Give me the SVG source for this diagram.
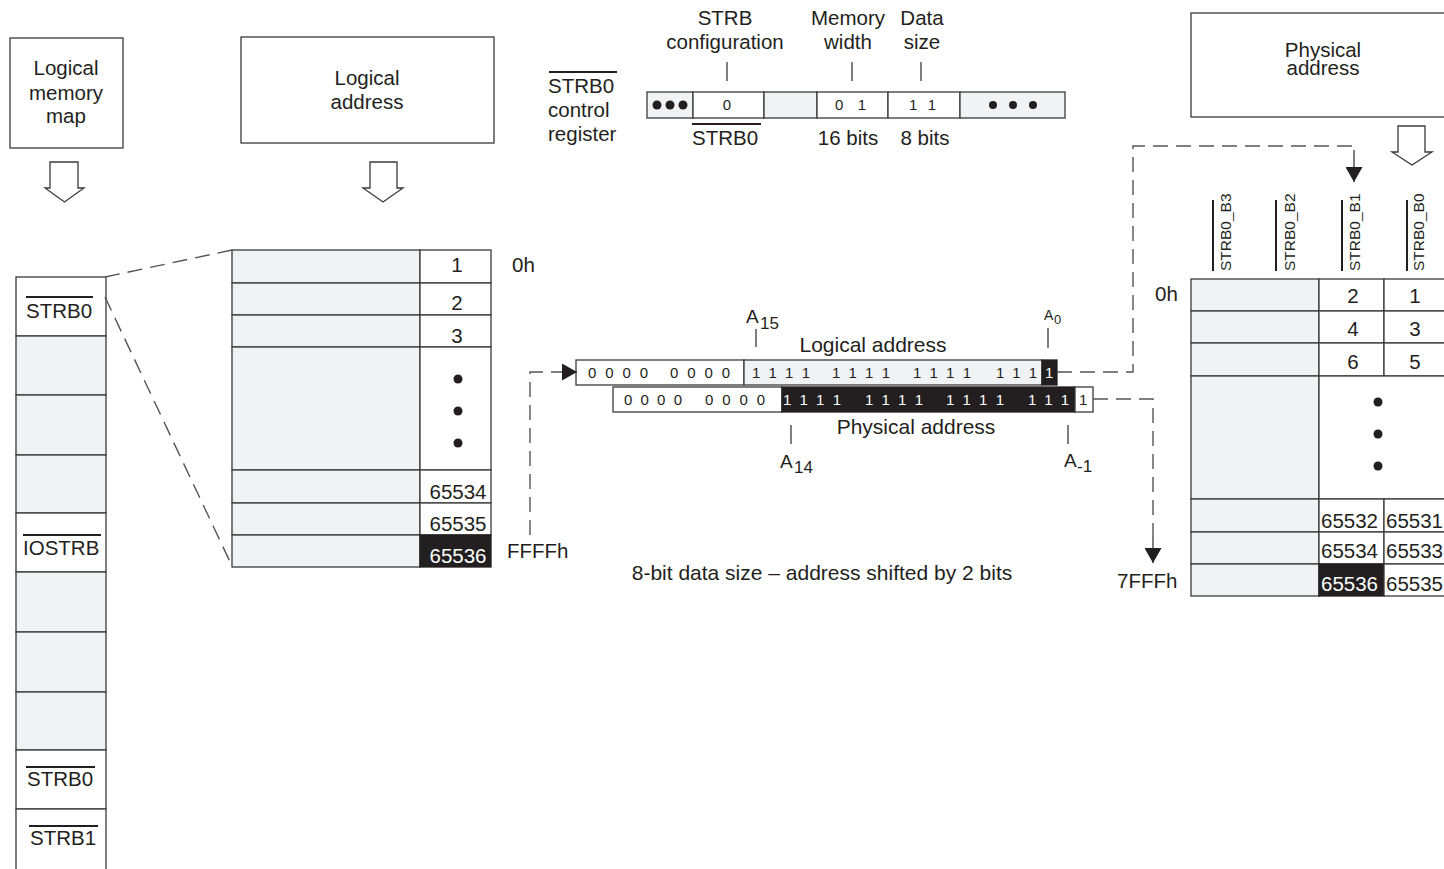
<svg xmlns="http://www.w3.org/2000/svg" width="1444" height="869" viewBox="0 0 1444 869">
<style>
.t{font-family:"Liberation Sans",Arial,Helvetica,sans-serif;font-size:20.5px;fill:#231f20}
.m{text-anchor:middle}
.s{font-size:15px}
.w{fill:#ffffff}
.box{fill:#ffffff;stroke:#3a3a3a;stroke-width:1.3}
.gray{fill:#f1f2f4;stroke:#3a3a3a;stroke-width:1.3}
.blk{fill:#231f20;stroke:#231f20;stroke-width:1.3}
.ln{stroke:#3a3a3a;stroke-width:1.3;fill:none}
.ov{stroke:#231f20;stroke-width:2;fill:none}
.dash{fill:none;stroke:#555555;stroke-width:1.4;stroke-dasharray:15 8}
.hollow{fill:#ffffff;stroke:#3a3a3a;stroke-width:1.3}
.dot{fill:#231f20}
</style>
<defs>
<marker id="ah" viewBox="0 0 15 17" refX="15" refY="8.5" markerWidth="15" markerHeight="17" markerUnits="userSpaceOnUse" orient="auto">
<path d="M0,0 L15,8.5 L0,17 z" fill="#231f20"/>
</marker>
</defs>
<rect width="1444" height="869" fill="#ffffff"/>

<g id="logical-memory-map-title">
<rect class="box" x="10" y="38" width="113" height="110"/>
<text class="t m" x="66" y="75">Logical</text>
<text class="t m" x="66" y="100">memory</text>
<text class="t m" x="66" y="123">map</text>
<polygon class="hollow" points="50,162 78,162 78,188 84,188 64.5,202 45,188 50,188"/>
</g>

<g id="logical-address-title">
<rect class="box" x="241" y="37" width="253" height="106"/>
<text class="t m" x="367" y="85">Logical</text>
<text class="t m" x="367" y="109">address</text>
<polygon class="hollow" points="370,162 397,162 397,188 403,188 383,202 363,188 370,188"/>
</g>

<g id="physical-address-title">
<rect class="box" x="1191" y="13" width="270" height="104"/>
<text class="t m" x="1323" y="57">Physical</text>
<text class="t m" x="1323" y="75">address</text>
<polygon class="hollow" points="1398,126 1425,126 1425,152 1432,152 1412,165 1392,152 1398,152"/>
</g>

<g id="control-register">
<line class="ov" x1="549" y1="72" x2="617" y2="72"/>
<text class="t" x="548" y="93">STRB0</text>
<text class="t" x="548" y="117">control</text>
<text class="t" x="548" y="141">register</text>
<text class="t m" x="725" y="25">STRB</text>
<text class="t m" x="725" y="49">configuration</text>
<text class="t m" x="848" y="25">Memory</text>
<text class="t m" x="848" y="49">width</text>
<text class="t m" x="922" y="25">Data</text>
<text class="t m" x="922" y="49">size</text>
<line class="ln" x1="727" y1="62" x2="727" y2="81"/>
<line class="ln" x1="852" y1="62" x2="852" y2="81"/>
<line class="ln" x1="921" y1="62" x2="921" y2="81"/>
<rect class="gray" x="647" y="92" width="46" height="26"/>
<rect class="box" x="693" y="92" width="71" height="26"/>
<rect class="gray" x="764" y="92" width="53" height="26"/>
<rect class="box" x="817" y="92" width="71" height="26"/>
<rect class="box" x="888" y="92" width="72" height="26"/>
<rect class="gray" x="960" y="92" width="105" height="26"/>
<circle class="dot" cx="657" cy="105" r="4.5"/>
<circle class="dot" cx="670" cy="105" r="4.5"/>
<circle class="dot" cx="683" cy="105" r="4.5"/>
<circle class="dot" cx="993" cy="105" r="4"/>
<circle class="dot" cx="1013" cy="105" r="4"/>
<circle class="dot" cx="1033" cy="105" r="4"/>
<text class="t s m" x="727" y="110">0</text>
<text class="t s" x="835" y="110" textLength="31" lengthAdjust="spacing">0 1</text>
<text class="t s" x="909" y="110" textLength="27" lengthAdjust="spacing">1 1</text>
<line class="ov" x1="692" y1="124" x2="761" y2="124"/>
<text class="t" x="692" y="145">STRB0</text>
<text class="t m" x="848" y="145">16 bits</text>
<text class="t m" x="925" y="145">8 bits</text>
</g>

<g id="logical-memory-map">
<rect class="box" x="16" y="277" width="90" height="59"/>
<rect class="gray" x="16" y="336" width="90" height="59"/>
<rect class="gray" x="16" y="395" width="90" height="60"/>
<rect class="gray" x="16" y="455" width="90" height="58"/>
<rect class="box" x="16" y="513" width="90" height="59"/>
<rect class="gray" x="16" y="572" width="90" height="60"/>
<rect class="gray" x="16" y="632" width="90" height="60"/>
<rect class="gray" x="16" y="692" width="90" height="58"/>
<rect class="box" x="16" y="750" width="90" height="59"/>
<rect class="box" x="16" y="809" width="90" height="62"/>
<line class="ov" x1="26" y1="297" x2="93" y2="297"/>
<text class="t" x="26" y="318">STRB0</text>
<line class="ov" x1="23" y1="535" x2="101" y2="535"/>
<text class="t" x="23" y="555">IOSTRB</text>
<line class="ov" x1="26" y1="767" x2="95" y2="767"/>
<text class="t" x="27" y="786">STRB0</text>
<line class="ov" x1="29" y1="826" x2="98" y2="826"/>
<text class="t" x="30" y="845">STRB1</text>
</g>

<g id="logical-address-table">
<rect class="gray" x="232" y="250" width="188" height="33"/>
<rect class="gray" x="232" y="283" width="188" height="32"/>
<rect class="gray" x="232" y="315" width="188" height="32"/>
<rect class="gray" x="232" y="347" width="188" height="123"/>
<rect class="gray" x="232" y="470" width="188" height="33"/>
<rect class="gray" x="232" y="503" width="188" height="32"/>
<rect class="gray" x="232" y="535" width="188" height="32"/>
<rect class="box" x="420" y="250" width="71" height="33"/>
<rect class="box" x="420" y="283" width="71" height="32"/>
<rect class="box" x="420" y="315" width="71" height="32"/>
<rect class="box" x="420" y="347" width="71" height="123"/>
<rect class="box" x="420" y="470" width="71" height="33"/>
<rect class="box" x="420" y="503" width="71" height="32"/>
<rect class="blk" x="420" y="535" width="71" height="32"/>
<text class="t m" x="457" y="272">1</text>
<text class="t m" x="457" y="310">2</text>
<text class="t m" x="457" y="343">3</text>
<circle class="dot" cx="458" cy="379" r="4.5"/>
<circle class="dot" cx="458" cy="411" r="4.5"/>
<circle class="dot" cx="458" cy="443" r="4.5"/>
<text class="t m" x="458" y="499">65534</text>
<text class="t m" x="458" y="531">65535</text>
<text class="t m w" x="458" y="563">65536</text>
<text class="t" x="512" y="272">0h</text>
<text class="t" x="507" y="558">FFFFh</text>
</g>

<g id="address-bits">
<rect class="box" x="576" y="360" width="168" height="25"/>
<rect class="gray" x="744" y="360" width="298" height="25"/>
<rect class="blk" x="1042" y="360" width="15" height="25"/>
<rect class="box" x="613" y="387" width="169" height="25"/>
<rect class="blk" x="782" y="387" width="293" height="25"/>
<rect class="box" x="1075" y="387" width="18" height="25"/>
<text class="t s" x="588" y="378" textLength="60" lengthAdjust="spacing">0 0 0 0</text>
<text class="t s" x="670" y="378" textLength="60" lengthAdjust="spacing">0 0 0 0</text>
<text class="t s" x="752" y="378" textLength="58" lengthAdjust="spacing">1 1 1 1</text>
<text class="t s" x="832" y="378" textLength="58" lengthAdjust="spacing">1 1 1 1</text>
<text class="t s" x="913" y="378" textLength="58" lengthAdjust="spacing">1 1 1 1</text>
<text class="t s" x="996" y="378" textLength="41" lengthAdjust="spacing">1 1 1</text>
<text class="t s w" x="1045" y="378">1</text>
<text class="t s" x="624" y="405" textLength="58" lengthAdjust="spacing">0 0 0 0</text>
<text class="t s" x="705" y="405" textLength="60" lengthAdjust="spacing">0 0 0 0</text>
<text class="t s w" x="783" y="405" textLength="58" lengthAdjust="spacing">1 1 1 1</text>
<text class="t s w" x="865" y="405" textLength="58" lengthAdjust="spacing">1 1 1 1</text>
<text class="t s w" x="946" y="405" textLength="58" lengthAdjust="spacing">1 1 1 1</text>
<text class="t s w" x="1028" y="405" textLength="41" lengthAdjust="spacing">1 1 1</text>
<text class="t s" x="1079" y="405">1</text>
<text class="t" x="746" y="323" style="font-size:19px">A</text>
<text class="t" x="760" y="329" style="font-size:17px">15</text>
<line class="ln" x1="756" y1="329" x2="756" y2="347"/>
<text class="t" x="1044" y="320" style="font-size:14px">A</text>
<text class="t" x="1054" y="324" style="font-size:13px">0</text>
<line class="ln" x1="1048" y1="328" x2="1048" y2="348"/>
<text class="t m" x="873" y="352" style="font-size:21px">Logical address</text>
<text class="t m" x="916" y="434" style="font-size:21px">Physical address</text>
<line class="ln" x1="791" y1="425" x2="791" y2="444"/>
<text class="t" x="780" y="468" style="font-size:19px">A</text>
<text class="t" x="794" y="473" style="font-size:17px">14</text>
<line class="ln" x1="1068" y1="425" x2="1068" y2="444"/>
<text class="t" x="1064" y="467" style="font-size:19px">A</text>
<text class="t" x="1077" y="472" style="font-size:17px">-1</text>
<text class="t m" x="822" y="580" style="font-size:21px">8-bit data size – address shifted by 2 bits</text>
</g>

<g id="physical-memory-table">
<line class="ov" x1="1213" y1="200" x2="1213" y2="271"/>
<line class="ov" x1="1276" y1="200" x2="1276" y2="271"/>
<line class="ov" x1="1342" y1="200" x2="1342" y2="271"/>
<line class="ov" x1="1407" y1="200" x2="1407" y2="271"/>
<text class="t" transform="translate(1231,271) rotate(-90)" style="font-size:15.5px">STRB0_B3</text>
<text class="t" transform="translate(1295,271) rotate(-90)" style="font-size:15.5px">STRB0_B2</text>
<text class="t" transform="translate(1360,271) rotate(-90)" style="font-size:15.5px">STRB0_B1</text>
<text class="t" transform="translate(1424,271) rotate(-90)" style="font-size:15.5px">STRB0_B0</text>
<rect class="gray" x="1191" y="279" width="128" height="32"/>
<rect class="gray" x="1191" y="311" width="128" height="32"/>
<rect class="gray" x="1191" y="343" width="128" height="33"/>
<rect class="gray" x="1191" y="376" width="128" height="123"/>
<rect class="gray" x="1191" y="499" width="128" height="33"/>
<rect class="gray" x="1191" y="532" width="128" height="32"/>
<rect class="gray" x="1191" y="564" width="128" height="32"/>
<rect class="box" x="1319" y="279" width="65" height="32"/>
<rect class="box" x="1384" y="279" width="70" height="32"/>
<rect class="box" x="1319" y="311" width="65" height="32"/>
<rect class="box" x="1384" y="311" width="70" height="32"/>
<rect class="box" x="1319" y="343" width="65" height="33"/>
<rect class="box" x="1384" y="343" width="70" height="33"/>
<rect class="box" x="1319" y="376" width="135" height="123"/>
<rect class="box" x="1319" y="499" width="65" height="33"/>
<rect class="box" x="1384" y="499" width="70" height="33"/>
<rect class="box" x="1319" y="532" width="65" height="32"/>
<rect class="box" x="1384" y="532" width="70" height="32"/>
<rect class="blk" x="1319" y="564" width="65" height="32"/>
<rect class="box" x="1384" y="564" width="70" height="32"/>
<text class="t m" x="1353" y="303">2</text>
<text class="t m" x="1415" y="303">1</text>
<text class="t m" x="1353" y="336">4</text>
<text class="t m" x="1415" y="336">3</text>
<text class="t m" x="1353" y="369">6</text>
<text class="t m" x="1415" y="369">5</text>
<circle class="dot" cx="1378" cy="402" r="4.5"/>
<circle class="dot" cx="1378" cy="434" r="4.5"/>
<circle class="dot" cx="1378" cy="466" r="4.5"/>
<text class="t" x="1321" y="528">65532</text>
<text class="t" x="1386" y="528">65531</text>
<text class="t" x="1321" y="558">65534</text>
<text class="t" x="1386" y="558">65533</text>
<text class="t w" x="1321" y="591">65536</text>
<text class="t" x="1386" y="591">65535</text>
<text class="t" x="1155" y="301">0h</text>
<text class="t" x="1117" y="588">7FFFh</text>
</g>

<g id="connectors">
<path class="dash" d="M105,277 L232,250"/>
<path class="dash" d="M105,297 L232,566"/>
<path class="dash" d="M530,535 V372 H553"/>
<path class="ln" d="M553,372 H577" marker-end="url(#ah)"/>
<path class="dash" d="M1057,372 H1133 V146 H1354"/>
<path class="ln" d="M1354,150 V182" marker-end="url(#ah)"/>
<path class="dash" d="M1093,399 H1153 V537"/>
<path class="ln" d="M1153,537 V563" marker-end="url(#ah)"/>
</g>
</svg>
